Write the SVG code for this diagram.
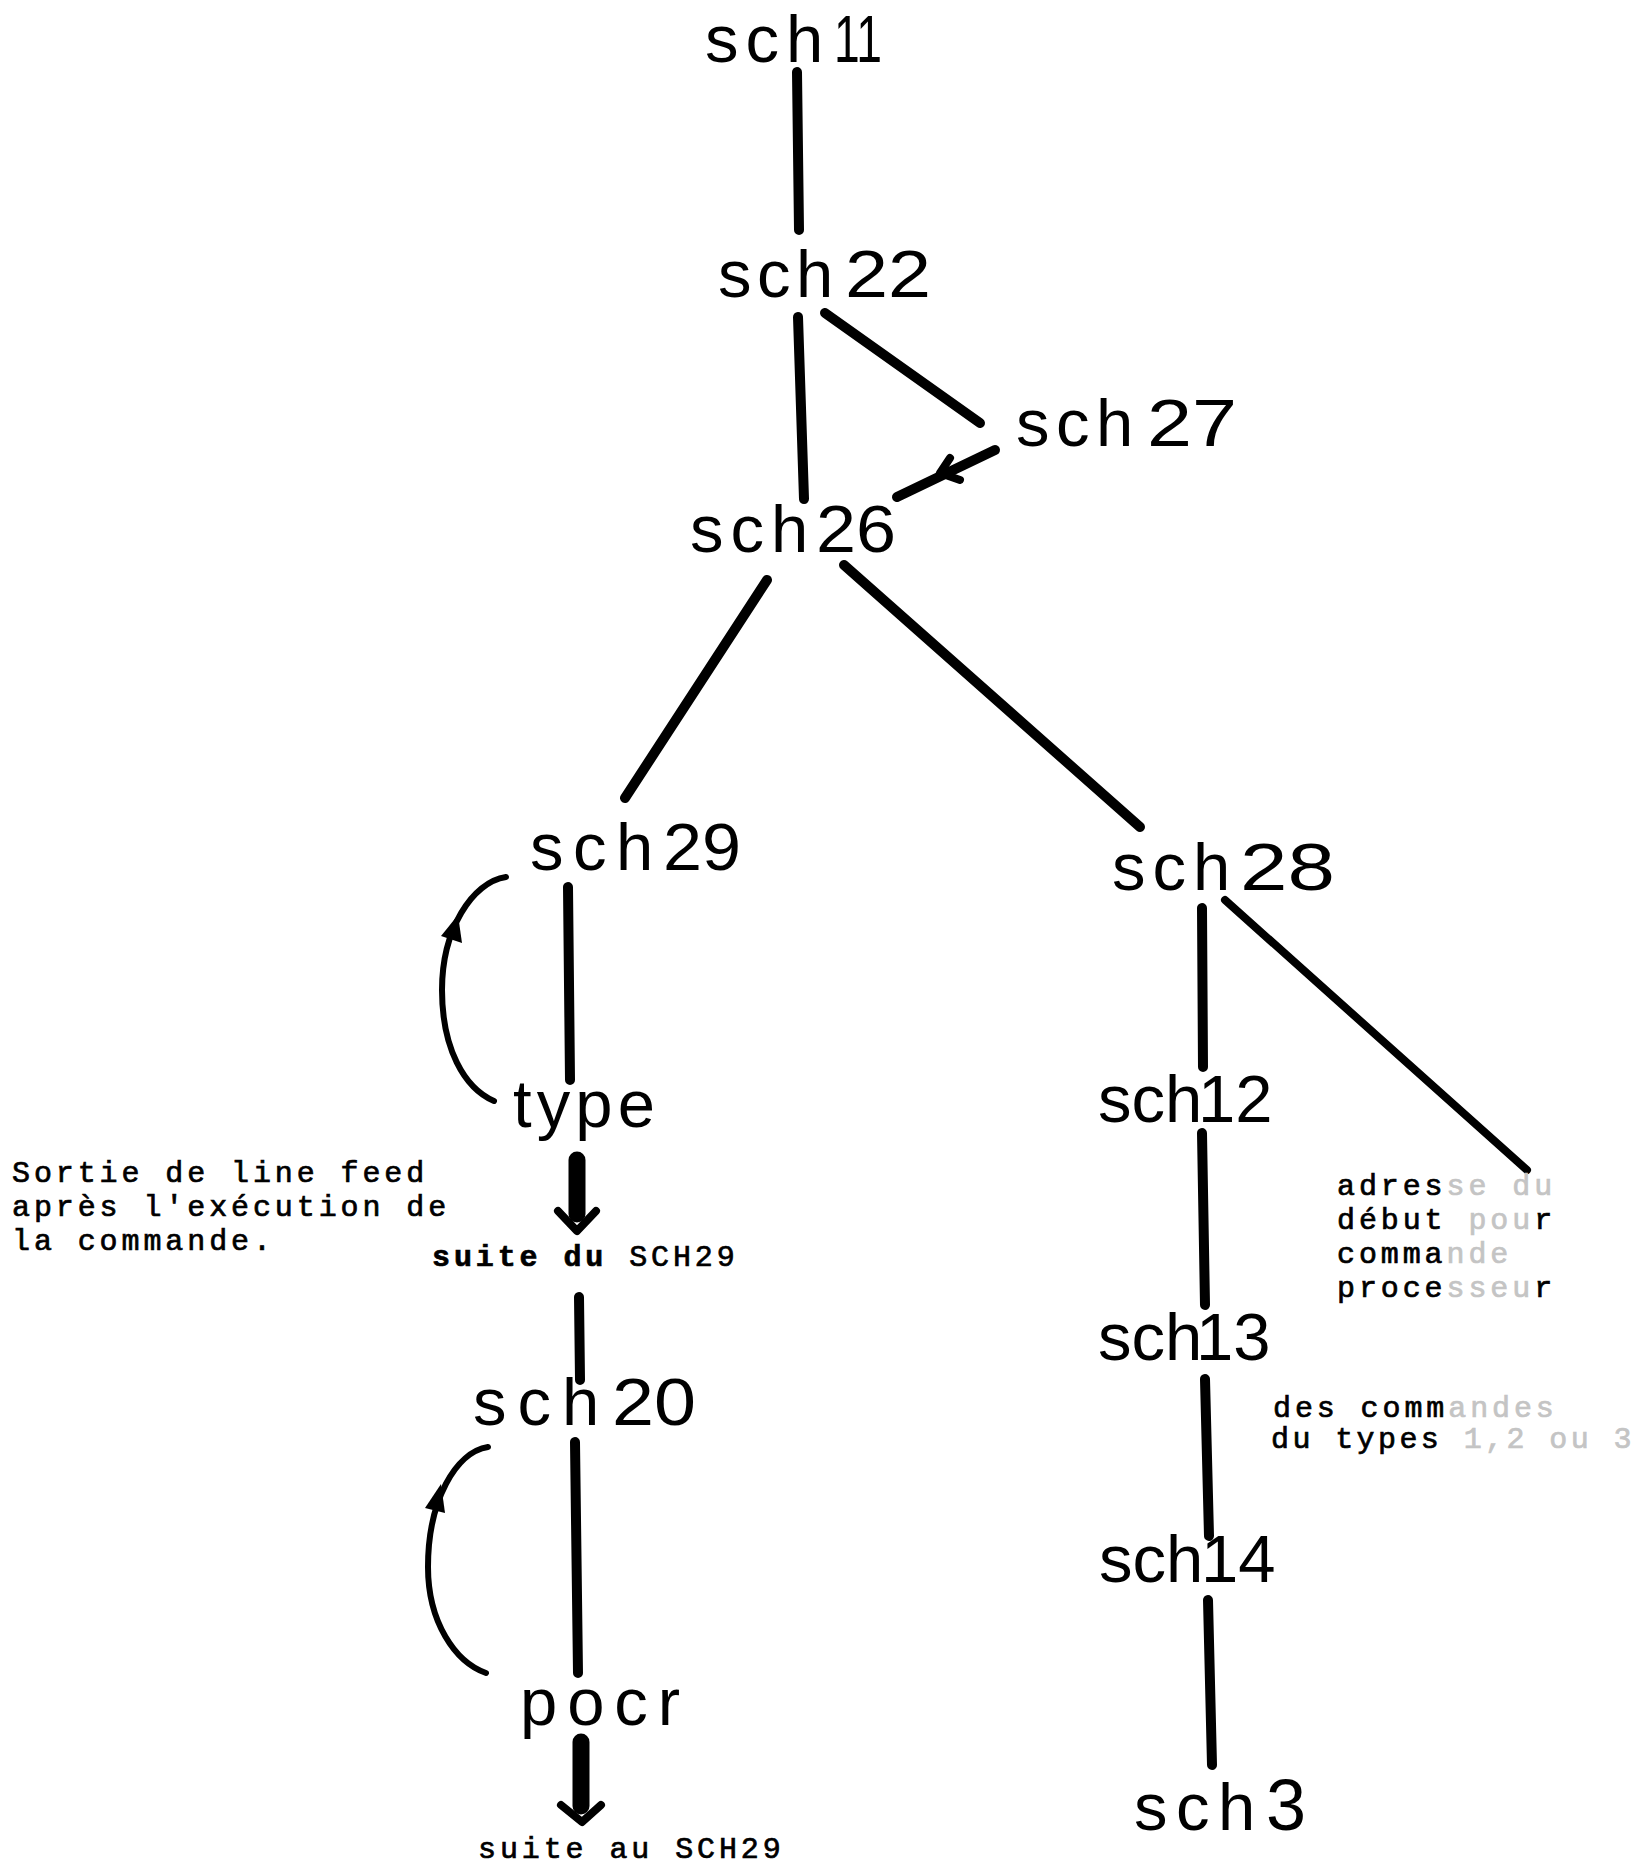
<svg xmlns="http://www.w3.org/2000/svg" width="1639" height="1867" viewBox="0 0 1639 1867">
<style>
.lbl{font-family:"Liberation Sans","DejaVu Sans",sans-serif;font-size:67px;fill:#000}
.tw{font-family:"Liberation Mono","DejaVu Sans Mono",monospace;font-size:30px;letter-spacing:3.9px;fill:#000;stroke:#000;stroke-width:0.7}
.b{font-weight:bold}
.fd{fill:#c4c4c4;stroke:#c4c4c4}
.ln{stroke:#000;stroke-width:10;stroke-linecap:round;fill:none}
.thin{stroke:#000;stroke-width:6;stroke-linecap:round;fill:none}
.bar{stroke:#000;stroke-width:17;stroke-linecap:round;fill:none}
.chev{stroke:#000;stroke-width:8;stroke-linecap:round;stroke-linejoin:round;fill:none}
</style>
<rect width="1639" height="1867" fill="#fff"/>
<g id="connectors">
<line class="ln" x1="797" y1="72" x2="799" y2="230"/>
<line class="ln" x1="798" y1="317" x2="804" y2="499"/>
<line class="ln" x1="825" y1="313" x2="980" y2="423"/>
<line class="ln" x1="995" y1="450" x2="897" y2="497"/>
<path class="chev" d="M950 458 L940 473 L960 480"/>
<line class="ln" x1="767" y1="580" x2="625" y2="798"/>
<line class="ln" x1="844" y1="565" x2="1140" y2="827"/>
<line class="ln" x1="568" y1="887" x2="570" y2="1080"/>
<path class="thin" d="M506 877 C472 882 442 930 442 990 C442 1048 464 1088 494 1101"/>
<polygon points="458,915 441,936 462,943" fill="#000"/>
<line class="bar" x1="577" y1="1160" x2="577" y2="1214"/>
<path class="chev" d="M558 1211 L577 1231 L596 1211"/>
<line class="ln" x1="579" y1="1297" x2="580" y2="1380"/>
<line class="ln" x1="575" y1="1442" x2="578" y2="1673"/>
<path class="thin" d="M488 1447 C456 1452 428 1500 428 1567 C428 1622 455 1662 486 1673"/>
<polygon points="441,1484 425,1508 445,1513" fill="#000"/>
<line class="bar" x1="581" y1="1742" x2="581" y2="1806"/>
<path class="chev" d="M561 1805 L582 1822 L601 1805"/>
<line class="ln" x1="1202" y1="908" x2="1203" y2="1067"/>
<line class="ln" x1="1225" y1="900" x2="1527" y2="1170" style="stroke-width:8"/>
<line class="ln" x1="1202" y1="1133" x2="1205" y2="1305"/>
<line class="ln" x1="1205" y1="1379" x2="1209" y2="1536"/>
<line class="ln" x1="1208" y1="1600" x2="1212" y2="1765"/>
</g>
<g id="sch11"><text class="lbl" y="62"><tspan x="705" style="letter-spacing:7px">sch</tspan><tspan x="834" textLength="48" lengthAdjust="spacingAndGlyphs">11</tspan></text></g>
<g id="sch22"><text class="lbl" y="297"><tspan x="718" style="letter-spacing:5.5px">sch</tspan><tspan x="845" textLength="86" lengthAdjust="spacingAndGlyphs">22</tspan></text></g>
<g id="sch27"><text class="lbl" y="446"><tspan x="1016" style="letter-spacing:6.5px">sch</tspan><tspan x="1147" textLength="90" lengthAdjust="spacingAndGlyphs">27</tspan></text></g>
<g id="sch26"><text class="lbl" y="552"><tspan x="690" style="letter-spacing:7px">sch</tspan><tspan x="816" textLength="80" lengthAdjust="spacingAndGlyphs">26</tspan></text></g>
<g id="sch29"><text class="lbl" y="870"><tspan x="530" style="letter-spacing:9.5px">sch</tspan><tspan x="663" textLength="78" lengthAdjust="spacingAndGlyphs">29</tspan></text></g>
<g id="sch28"><text class="lbl" y="890"><tspan x="1112" style="letter-spacing:7px">sch</tspan><tspan x="1240" textLength="95" lengthAdjust="spacingAndGlyphs">28</tspan></text></g>
<g id="type"><text class="lbl" x="513" y="1127" textLength="142" lengthAdjust="spacing">type</text></g>
<g id="suite-du"><text class="tw" x="432" y="1266"><tspan class="b">suite du</tspan> SCH29</text></g>
<g id="note-left">
<text class="tw" x="12" y="1182">Sortie de line feed</text>
<text class="tw" x="12" y="1216">après l'exécution de</text>
<text class="tw" x="12" y="1250">la commande.</text>
</g>
<g id="sch20"><text class="lbl" y="1425"><tspan x="473" style="letter-spacing:11px">sch</tspan><tspan x="612" textLength="84" lengthAdjust="spacingAndGlyphs">20</tspan></text></g>
<g id="pocr"><text class="lbl" x="520" y="1725" textLength="160" lengthAdjust="spacing">pocr</text></g>
<g id="suite-au"><text class="tw" x="478" y="1858">suite au SCH29</text></g>
<g id="sch12"><text class="lbl" y="1122"><tspan x="1098">sch</tspan><tspan x="1198">12</tspan></text></g>
<g id="sch13"><text class="lbl" y="1360"><tspan x="1098">sch</tspan><tspan x="1196">13</tspan></text></g>
<g id="sch14"><text class="lbl" y="1582"><tspan x="1099">sch</tspan><tspan x="1201">14</tspan></text></g>
<g id="sch3"><text class="lbl" y="1830"><tspan x="1134" style="letter-spacing:8.5px">sch</tspan><tspan x="1266" style="font-size:72px">3</tspan></text></g>
<g id="note-right">
<text class="tw" x="1337" y="1195">adres<tspan class="fd">se du</tspan></text>
<text class="tw" x="1337" y="1229">début<tspan class="fd"> pou</tspan>r</text>
<text class="tw" x="1337" y="1263">comma<tspan class="fd">nde</tspan></text>
<text class="tw" x="1337" y="1297">proce<tspan class="fd">sseu</tspan>r</text>
</g>
<g id="note-types">
<text class="tw" x="1273" y="1417">des comm<tspan class="fd">andes</tspan></text>
<text class="tw" x="1271" y="1448" style="letter-spacing:3.4px">du types <tspan class="fd">1,2 ou 3</tspan></text>
</g>
</svg>
